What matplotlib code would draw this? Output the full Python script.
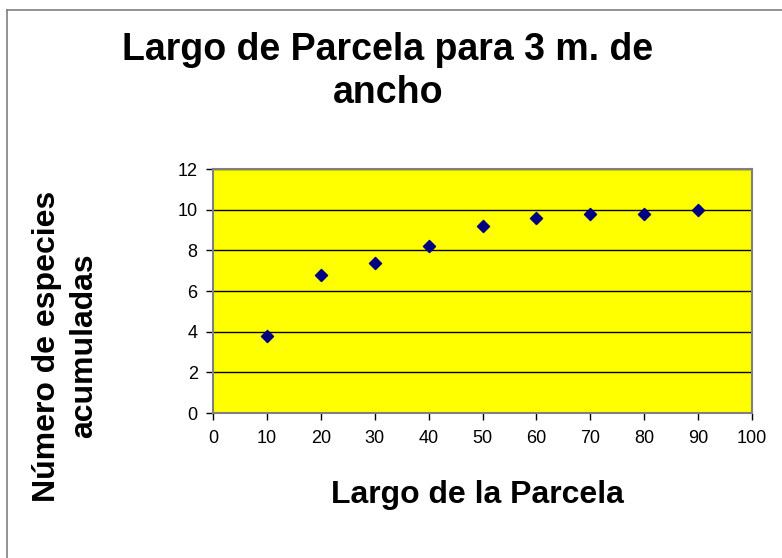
import matplotlib
matplotlib.use("Agg")
import matplotlib.pyplot as plt
from matplotlib.lines import Line2D

plt.rcParams['font.family'] = ['Liberation Sans', 'DejaVu Sans']

# largo de parcela (m) vs especies acumuladas
largo = [10, 20, 30, 40, 50, 60, 70, 80, 90]
especies = [3.8, 6.8, 7.4, 8.2, 9.2, 9.6, 9.8, 9.8, 10.0]
xticks = list(range(0, 101, 10))
yticks = list(range(0, 13, 2))

W, H = 782, 558
fig = plt.figure(figsize=(W / 100, H / 100), dpi=100)
ax = fig.add_axes([213 / W, 1 - 413 / H, (752 - 213) / W, (413 - 169) / H])

ax.set_facecolor('#FFFF00')
ax.scatter(largo, especies, marker='D', s=38, color='#000080', zorder=3)
ax.set_xlim(0, 100)
ax.set_ylim(0, 12)
ax.set_xticks(xticks)
ax.set_yticks(yticks)
ax.yaxis.grid(True, color='black', linewidth=1)
ax.set_axisbelow(True)
for s in ax.spines.values():
    s.set_color('#808080')
    s.set_linewidth(1.5)
ax.tick_params(direction='out', length=5, width=1, color='black',
               labelsize=13)
ax.tick_params(axis='x', pad=7)
ax.tick_params(axis='y', pad=6)


def fx(px):
    return px / W


def fy(py):
    return 1 - py / H


bold = dict(fontweight='bold', rotation_mode='anchor')

# título en dos líneas
fig.text(fx(388), fy(60), 'Largo de Parcela para 3 m. de', ha='center',
         va='baseline', fontsize=27, **bold)
fig.text(fx(388), fy(103), 'ancho', ha='center', va='baseline',
         fontsize=27, **bold)

fig.text(fx(477), fy(503), 'Largo de la Parcela', ha='center',
         va='baseline', fontsize=23, **bold)

fig.text(fx(55), fy(346), 'Número de especies', ha='center',
         va='baseline', rotation=90, fontsize=23, **bold)
fig.text(fx(92), fy(346), 'acumuladas', ha='center',
         va='baseline', rotation=90, fontsize=23, **bold)

# marco del gráfico
fig.add_artist(Line2D([fx(7), fx(7)], [0, fy(10)], color='#808080',
                      linewidth=1.2, transform=fig.transFigure))
fig.add_artist(Line2D([fx(7), 1], [fy(10), fy(10)], color='#808080',
                      linewidth=1.2, transform=fig.transFigure))

fig.savefig('out.png', dpi=100, facecolor='white')
